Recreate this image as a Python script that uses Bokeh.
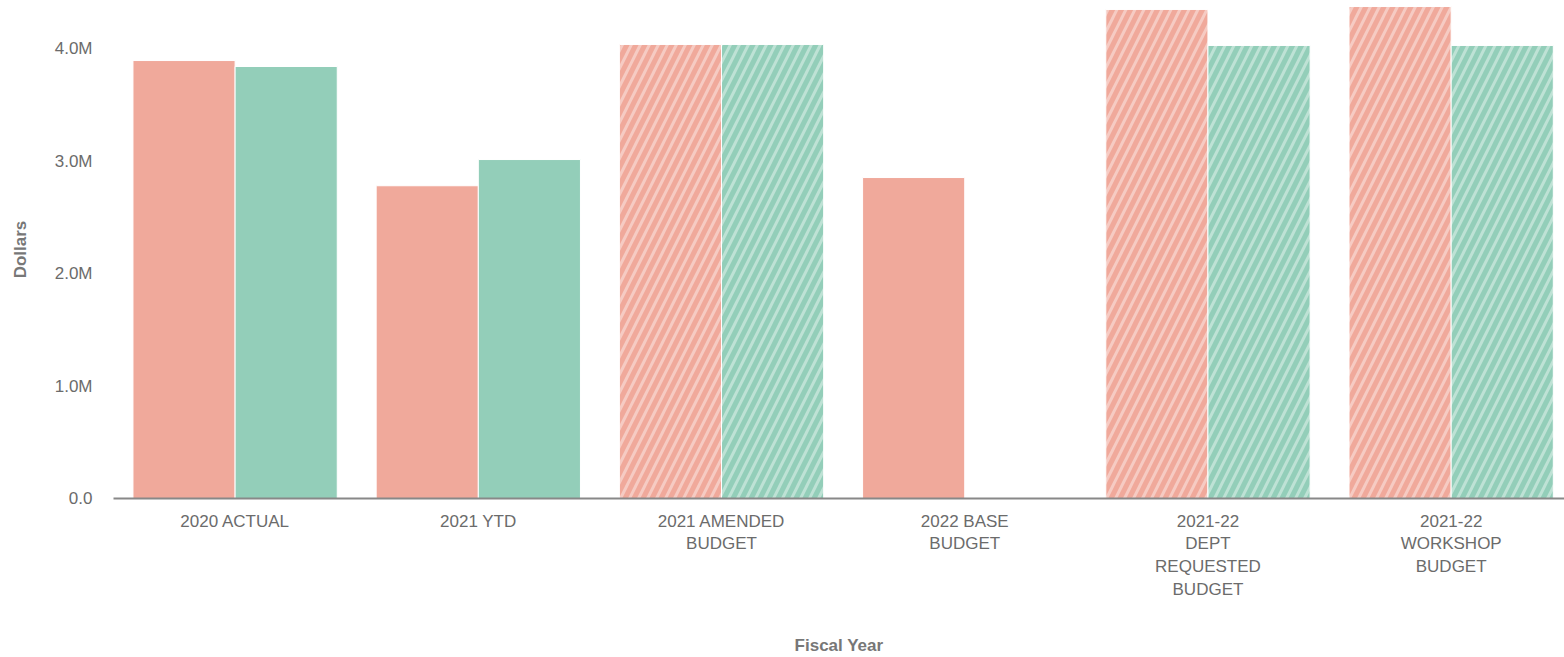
from bokeh.plotting import figure
from bokeh.models import Range1d, FixedTicker, CustomJSTickFormatter, ColumnDataSource
from bokeh.embed import file_html
from bokeh.resources import INLINE

categories = ["2020 ACTUAL", "2021 YTD", "2021 AMENDED\nBUDGET", "2022 BASE\nBUDGET",
              "2021-22\nDEPT\nREQUESTED\nBUDGET", "2021-22\nWORKSHOP\nBUDGET"]
series_a = [3.893e6, 2.78e6, 4.036e6, 2.853e6, 4.347e6, 4.373e6]
series_b = [3.84e6, 3.013e6, 4.036e6, None, 4.027e6, 4.027e6]
hatched = [False, False, True, False, True, True]
y_ticks = [0, 1e6, 2e6, 3e6, 4e6]

SALMON = "#F0A99B"
TEAL = "#93CEB9"
FONT = "Liberation Sans"
TXT = "#6b6b6b"

p = figure(width=1564, height=657, output_backend="svg", toolbar_location=None,
           x_range=Range1d(-0.5, 5.466), y_range=Range1d(0, 4.4267e6),
           min_border_left=113, min_border_right=0, min_border_top=0, min_border_bottom=0)
p.outline_line_color = None
p.xgrid.grid_line_color = None
p.ygrid.grid_line_color = None

def add_bars(values, offset, color):
    for h in (False, True):
        xs, tops = [], []
        for i, v in enumerate(values):
            if v is None or hatched[i] != h:
                continue
            xs.append(i + offset)
            tops.append(v)
        if not xs:
            continue
        src = ColumnDataSource(dict(x=xs, top=tops))
        kw = dict(x="x", top="top", bottom=0, width=0.42, source=src,
                  fill_color=color, line_color="white", line_width=1)
        if h:
            kw.update(hatch_pattern="/", hatch_color="white", hatch_alpha=0.4,
                      hatch_scale=18, hatch_weight=3)
        p.vbar(**kw)

add_bars(series_a, -0.21, SALMON)
add_bars(series_b, 0.21, TEAL)

# x axis
p.xaxis.ticker = FixedTicker(ticks=list(range(len(categories))))
p.xaxis.major_label_overrides = {i: c for i, c in enumerate(categories)}
p.xaxis.axis_line_color = "#888888"
p.xaxis.axis_line_width = 2
p.xaxis.major_tick_line_color = None
p.xaxis.major_tick_out = 0
p.xaxis.major_tick_in = 0
p.xaxis.minor_tick_line_color = None
p.xaxis.major_label_standoff = 13
p.xaxis.major_label_text_font = FONT
p.xaxis.major_label_text_font_size = "17px"
p.xaxis.major_label_text_color = TXT
p.xaxis.axis_label = "Fiscal Year"
p.xaxis.axis_label_text_font = FONT
p.xaxis.axis_label_text_font_size = "17px"
p.xaxis.axis_label_text_font_style = "bold"
p.xaxis.axis_label_text_color = "#777777"
p.xaxis.axis_label_standoff = 34

# y axis
p.yaxis.ticker = FixedTicker(ticks=y_ticks)
p.yaxis.formatter = CustomJSTickFormatter(code="return tick == 0 ? '0.0' : (tick/1e6).toFixed(1) + 'M';")
p.yaxis.axis_line_color = None
p.yaxis.major_tick_line_color = None
p.yaxis.major_tick_out = 0
p.yaxis.major_tick_in = 0
p.yaxis.minor_tick_line_color = None
p.yaxis.major_label_standoff = 21
p.yaxis.major_label_text_font = FONT
p.yaxis.major_label_text_font_size = "17px"
p.yaxis.major_label_text_color = TXT
p.yaxis.axis_label = "Dollars"
p.yaxis.axis_label_text_font = FONT
p.yaxis.axis_label_text_font_size = "17px"
p.yaxis.axis_label_text_font_style = "bold"
p.yaxis.axis_label_text_color = "#777777"
p.yaxis.axis_label_standoff = 22

open("out.html", "w").write(file_html(p, INLINE))
